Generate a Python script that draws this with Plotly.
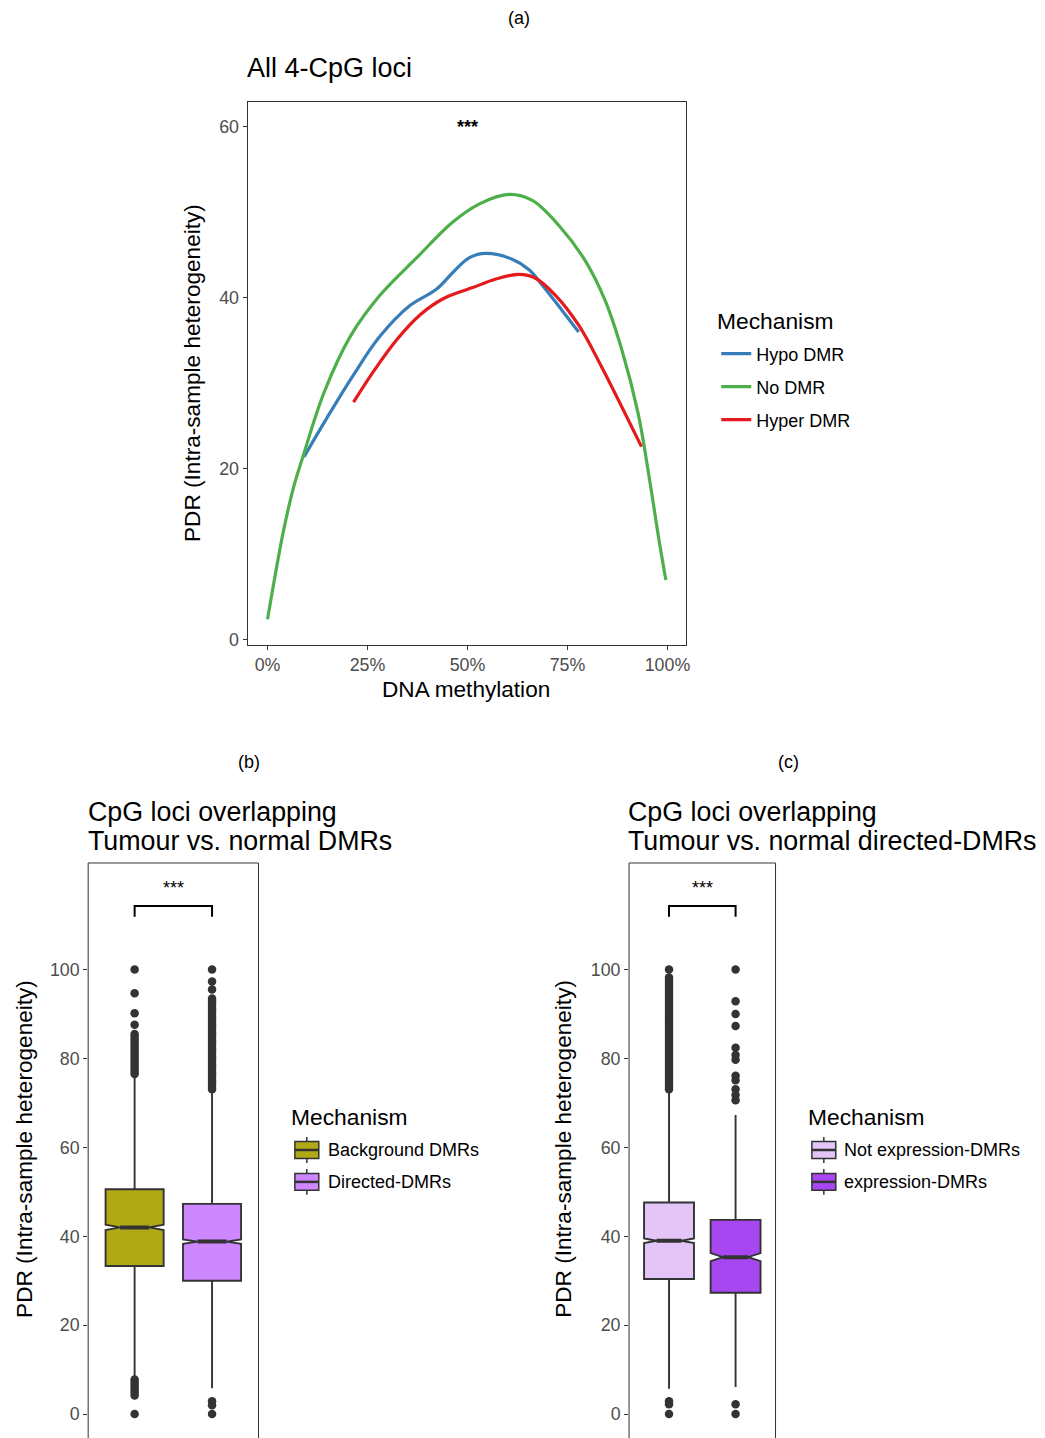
import plotly.graph_objects as go

FONT = "Liberation Sans, Arial, Helvetica, sans-serif"
TICK_TEXT = "#4D4D4D"
FRAME = "#333333"
W, H = 1045, 1438

# ---------------- (a) smoothed PDR against DNA methylation ----------------
mechanisms = ["Hypo DMR", "No DMR", "Hyper DMR"]
mech_colors = ["#377EB8", "#4DAF4A", "#E41A1C"]

hypo_meth = [9.1, 14.9, 21.5, 28.1, 35.6, 42.2, 46.4, 50.5, 54.6, 61.3, 65.4, 69.5, 73.7, 77.8]
hypo_pdr = [21.4, 26.0, 31.0, 35.5, 39.1, 41.0, 43.0, 44.7, 45.2, 44.5, 43.3, 41.0, 38.5, 36.0]

nodmr_meth = [0.0, 1.7, 4.1, 6.6, 8.7, 14.1, 20.7, 28.1, 37.3, 46.4, 53.0, 60.4, 66.2, 72.8,
              79.5, 84.4, 88.6, 92.7, 95.2, 97.7, 99.6]
nodmr_pdr = [2.4, 7.0, 13.0, 18.0, 21.2, 28.9, 35.5, 40.3, 44.7, 48.9, 51.0, 52.1, 51.4, 48.5,
             44.3, 39.7, 33.9, 26.4, 19.7, 12.2, 7.0]

hyper_meth = [21.5, 26.5, 32.3, 38.1, 43.9, 51.3, 57.1, 62.9, 67.0, 72.0, 77.8, 82.8, 93.5]
hyper_pdr = [27.8, 31.4, 35.1, 38.0, 39.9, 41.2, 42.2, 42.75, 42.3, 40.3, 36.8, 32.6, 22.6]

meth_ticks = [0, 25, 50, 75, 100]
meth_labels = ["0%", "25%", "50%", "75%", "100%"]
pdr_ticks_a = [0, 20, 40, 60]
signif_a = ("***", 50, 60)

# ---------------- (b) background vs directed DMRs ----------------
b_groups = ["Background DMRs", "Directed-DMRs"]
b_pos = [1, 2]
b_colors = ["#B0A916", "#CD87FF"]
b_q1 = [33.3, 30.0]
b_median = [42.0, 38.8]
b_q3 = [50.6, 47.3]
b_lowfence = [8.2, 5.8]
b_upfence = [76.3, 72.8]
b_notch = [0.6, 0.5]
b_outliers = [
    [100, 94.7, 90.2, 87.6, 85.5, 84.9, 84.3, 83.7, 83.1, 82.5, 81.9, 81.3, 80.7, 80.1,
     79.5, 78.9, 78.3, 77.7, 77.1, 76.5, 7.8, 7.2, 6.6, 6.0, 5.4, 4.8, 4.2, 0],
    [100, 97.3, 95.5, 93.5, 92.9, 92.3, 91.7, 91.1, 90.5, 89.9, 89.3, 88.7, 88.1, 87.5,
     86.9, 86.3, 85.7, 85.1, 84.5, 83.9, 83.3, 82.7, 82.1, 81.5, 80.9, 80.3, 79.7, 79.1,
     78.5, 77.9, 77.3, 76.7, 76.1, 75.5, 74.9, 74.3, 73.7, 73.1, 2.9, 2.0, 0],
]

# ---------------- (c) expression vs non-expression DMRs ----------------
c_groups = ["Not expression-DMRs", "expression-DMRs"]
c_pos = [1, 2]
c_colors = ["#E3C5F7", "#A647F2"]
c_q1 = [30.4, 27.3]
c_median = [39.0, 35.3]
c_q3 = [47.6, 43.7]
c_lowfence = [5.7, 6.1]
c_upfence = [72.8, 67.3]
c_notch = [0.5, 0.9]
c_outliers = [
    [100, 98.2, 97.6, 97.0, 96.4, 95.8, 95.2, 94.6, 94.0, 93.4, 92.8, 92.2, 91.6, 91.0,
     90.4, 89.8, 89.2, 88.6, 88.0, 87.4, 86.8, 86.2, 85.6, 85.0, 84.4, 83.8, 83.2, 82.6,
     82.0, 81.4, 80.8, 80.2, 79.6, 79.0, 78.4, 77.8, 77.2, 76.6, 76.0, 75.4, 74.8, 74.2,
     73.6, 73.1, 2.9, 2.2, 0],
    [100, 92.9, 90.0, 87.3, 82.4, 80.8, 79.7, 76.1, 75.1, 73.1, 71.8, 70.6, 2.2, 0],
]

pdr_ticks_box = [0, 20, 40, 60, 80, 100]
bracket_top, bracket_foot, star_y = 114.3, 111.9, 118.4
box_width = 0.75
notch_frac = 0.25  # ggplot-style notch: median line spans half the box

fig = go.Figure()

# (a) curves
for name, col, xs, ys in zip(mechanisms, mech_colors,
                             [hypo_meth, nodmr_meth, hyper_meth],
                             [hypo_pdr, nodmr_pdr, hyper_pdr]):
    fig.add_trace(go.Scatter(
        x=xs, y=ys, mode="lines", name=name,
        line=dict(color=col, width=3.2, shape="spline", smoothing=1.0),
        xaxis="x", yaxis="y", legend="legend", legendgroup=name,
    ))


def add_box_panel(groups, pos, colors, q1, med, q3, lo, hi, notch, outl, xa, ya):
    for g, p, col, a, m, b, l, h, n, out in zip(groups, pos, colors, q1, med, q3, lo, hi, notch, outl):
        fig.add_trace(go.Box(
            name=g, x=[p], q1=[a], median=[m], q3=[b], lowerfence=[l], upperfence=[h],
            notched=True, notchspan=[n], notchwidth=notch_frac, width=box_width,
            whiskerwidth=0, fillcolor=col, line=dict(color=FRAME, width=1.9),
            boxpoints=False, xaxis=xa, yaxis=ya, showlegend=False,
        ))
        half = box_width / 2 * (1 - 2 * notch_frac)
        fig.add_trace(go.Scatter(
            x=[p - half, p + half], y=[m, m], mode="lines",
            line=dict(color=FRAME, width=4), showlegend=False, hoverinfo="skip",
            xaxis=xa, yaxis=ya,
        ))
        fig.add_trace(go.Scatter(
            x=[p] * len(out), y=out, mode="markers",
            marker=dict(color=FRAME, size=8.5), showlegend=False,
            xaxis=xa, yaxis=ya,
        ))
    # significance bracket
    fig.add_trace(go.Scatter(
        x=[pos[0], pos[0], pos[1], pos[1]],
        y=[bracket_foot, bracket_top, bracket_top, bracket_foot],
        mode="lines", line=dict(color="black", width=2), showlegend=False,
        hoverinfo="skip", xaxis=xa, yaxis=ya,
    ))


add_box_panel(b_groups, b_pos, b_colors, b_q1, b_median, b_q3, b_lowfence, b_upfence,
              b_notch, b_outliers, "x2", "y2")
add_box_panel(c_groups, c_pos, c_colors, c_q1, c_median, c_q3, c_lowfence, c_upfence,
              c_notch, c_outliers, "x3", "y3")


def px_x(v):
    return v / W


def px_y(v):
    return 1 - v / H


tick_font = dict(family=FONT, size=17.8, color=TICK_TEXT)
common_axis = dict(ticks="outside", ticklen=4, tickwidth=1, tickcolor=FRAME,
                   showgrid=False, zeroline=False, tickfont=tick_font)

# box panels: top edge at 866 px, value 0 at 1419 px, 100 at 973 px
box_top_px, box_zero_px, box_unit_px = 866, 1419, 4.46
box_range = [-(H - box_zero_px) / box_unit_px, (box_zero_px - box_top_px) / box_unit_px]

fig.update_layout(
    width=W, height=H, autosize=False,
    margin=dict(l=0, r=0, t=0, b=0),
    paper_bgcolor="white", plot_bgcolor="white",
    font=dict(family=FONT, color="black"),
    xaxis=dict(domain=[px_x(248.5), px_x(688.5)], range=[-5, 104.6],
               tickvals=meth_ticks, ticktext=meth_labels,
               showline=True, mirror=True, linecolor=FRAME, linewidth=1,
               anchor="y", **common_axis),
    yaxis=dict(domain=[px_y(647), px_y(102.5)], range=[-0.58, 62.9],
               tickvals=pdr_ticks_a, showline=True, mirror=True, linecolor=FRAME,
               linewidth=1, anchor="x", **common_axis),
    xaxis2=dict(domain=[px_x(88.5), px_x(259.5)], range=[0.4, 2.6], showticklabels=False,
                showline=False, anchor="y2", ticks="", showgrid=False, zeroline=False),
    yaxis2=dict(domain=[0, px_y(box_top_px)], range=box_range, tickvals=pdr_ticks_box,
                showline=False, anchor="x2", **common_axis),
    xaxis3=dict(domain=[px_x(631.5), px_x(778.5)], range=[0.4, 2.6], showticklabels=False,
                showline=False, anchor="y3", ticks="", showgrid=False, zeroline=False),
    yaxis3=dict(domain=[0, px_y(box_top_px)], range=box_range, tickvals=pdr_ticks_box,
                showline=False, anchor="x3", **common_axis),
    showlegend=True,
    legend=dict(x=px_x(719), y=px_y(336.5), xanchor="left", yanchor="top",
                font=dict(size=18, family=FONT), tracegroupgap=6.6,
                bgcolor="rgba(0,0,0,0)", itemwidth=30),
)

# frames for the box panels (their bottom edge lies below the page)
for xa in ["x2", "x3"]:
    ya = "y" + xa[1:]
    fig.add_shape(type="rect", xref=f"{xa} domain", yref=f"{ya} domain",
                  x0=0, x1=1, y0=-0.05, y1=1, line=dict(color=FRAME, width=1),
                  fillcolor="rgba(0,0,0,0)", layer="above")


def note(text, x, y, size, xanchor="center", angle=0):
    fig.add_annotation(text=text, x=x, y=y, xref="paper", yref="paper", showarrow=False,
                       xanchor=xanchor, yanchor="middle", textangle=angle,
                       font=dict(family=FONT, size=size, color="black"))


# legend keys for the box panels, drawn in ggplot style (box, median, whiskers)
def box_legend(groups, colors, key_x0, text_x, row_y):
    for g, col, y in zip(groups, colors, row_y):
        kx0, kx1 = px_x(key_x0), px_x(key_x0 + 24)
        kxm = (kx0 + kx1) / 2
        fig.add_shape(type="line", xref="paper", yref="paper", x0=kxm, x1=kxm,
                      y0=px_y(y - 13), y1=px_y(y + 13), line=dict(color=FRAME, width=1.5))
        fig.add_shape(type="rect", xref="paper", yref="paper", x0=kx0, x1=kx1,
                      y0=px_y(y - 8.5), y1=px_y(y + 8.5), fillcolor=col,
                      line=dict(color=FRAME, width=1.5))
        fig.add_shape(type="line", xref="paper", yref="paper", x0=kx0, x1=kx1,
                      y0=px_y(y), y1=px_y(y), line=dict(color=FRAME, width=2.5))
        note(g, px_x(text_x), px_y(y), 18, xanchor="left")


note("Mechanism", px_x(718), px_y(322), 22.8, xanchor="left")
note("Mechanism", px_x(290), px_y(1121), 22.8, xanchor="left")
note("Mechanism", px_x(809), px_y(1121), 22.8, xanchor="left")
box_legend(b_groups, b_colors, 296, 327, [1154, 1186])
box_legend(c_groups, c_colors, 815, 845, [1154, 1186])

# panel labels and titles
note("(a)", px_x(521), px_y(18), 18)
note("(b)", px_x(250), px_y(765), 18)
note("(c)", px_x(792), px_y(765), 18)
note("All 4-CpG loci", px_x(246), px_y(68), 27, xanchor="left")
note("CpG loci overlapping", px_x(86), px_y(815), 26.8, xanchor="left")
note("Tumour vs. normal DMRs", px_x(86), px_y(844), 26.8, xanchor="left")
note("CpG loci overlapping", px_x(628), px_y(815), 26.8, xanchor="left")
note("Tumour vs. normal directed-DMRs", px_x(628), px_y(844), 26.8, xanchor="left")

# axis titles
ytitle = "PDR (Intra-sample heterogeneity)"
note(ytitle, px_x(193), px_y(374), 22.6, angle=-90)
note(ytitle, px_x(25), px_y(1153), 22.6, angle=-90)
note(ytitle, px_x(566), px_y(1153), 22.6, angle=-90)
note("DNA methylation", px_x(468), px_y(692), 22.6)

# significance stars
fig.add_annotation(text="<b>***</b>", x=signif_a[1], y=signif_a[2], xref="x", yref="y",
                   showarrow=False, yanchor="middle",
                   font=dict(family=FONT, size=18, color="black"))
for xa, ya, pos in [("x2", "y2", b_pos), ("x3", "y3", c_pos)]:
    fig.add_annotation(text="***", x=(pos[0] + pos[1]) / 2, y=star_y, xref=xa, yref=ya,
                       showarrow=False, yanchor="middle",
                       font=dict(family=FONT, size=18, color="black"))

fig.write_html("out.html")
